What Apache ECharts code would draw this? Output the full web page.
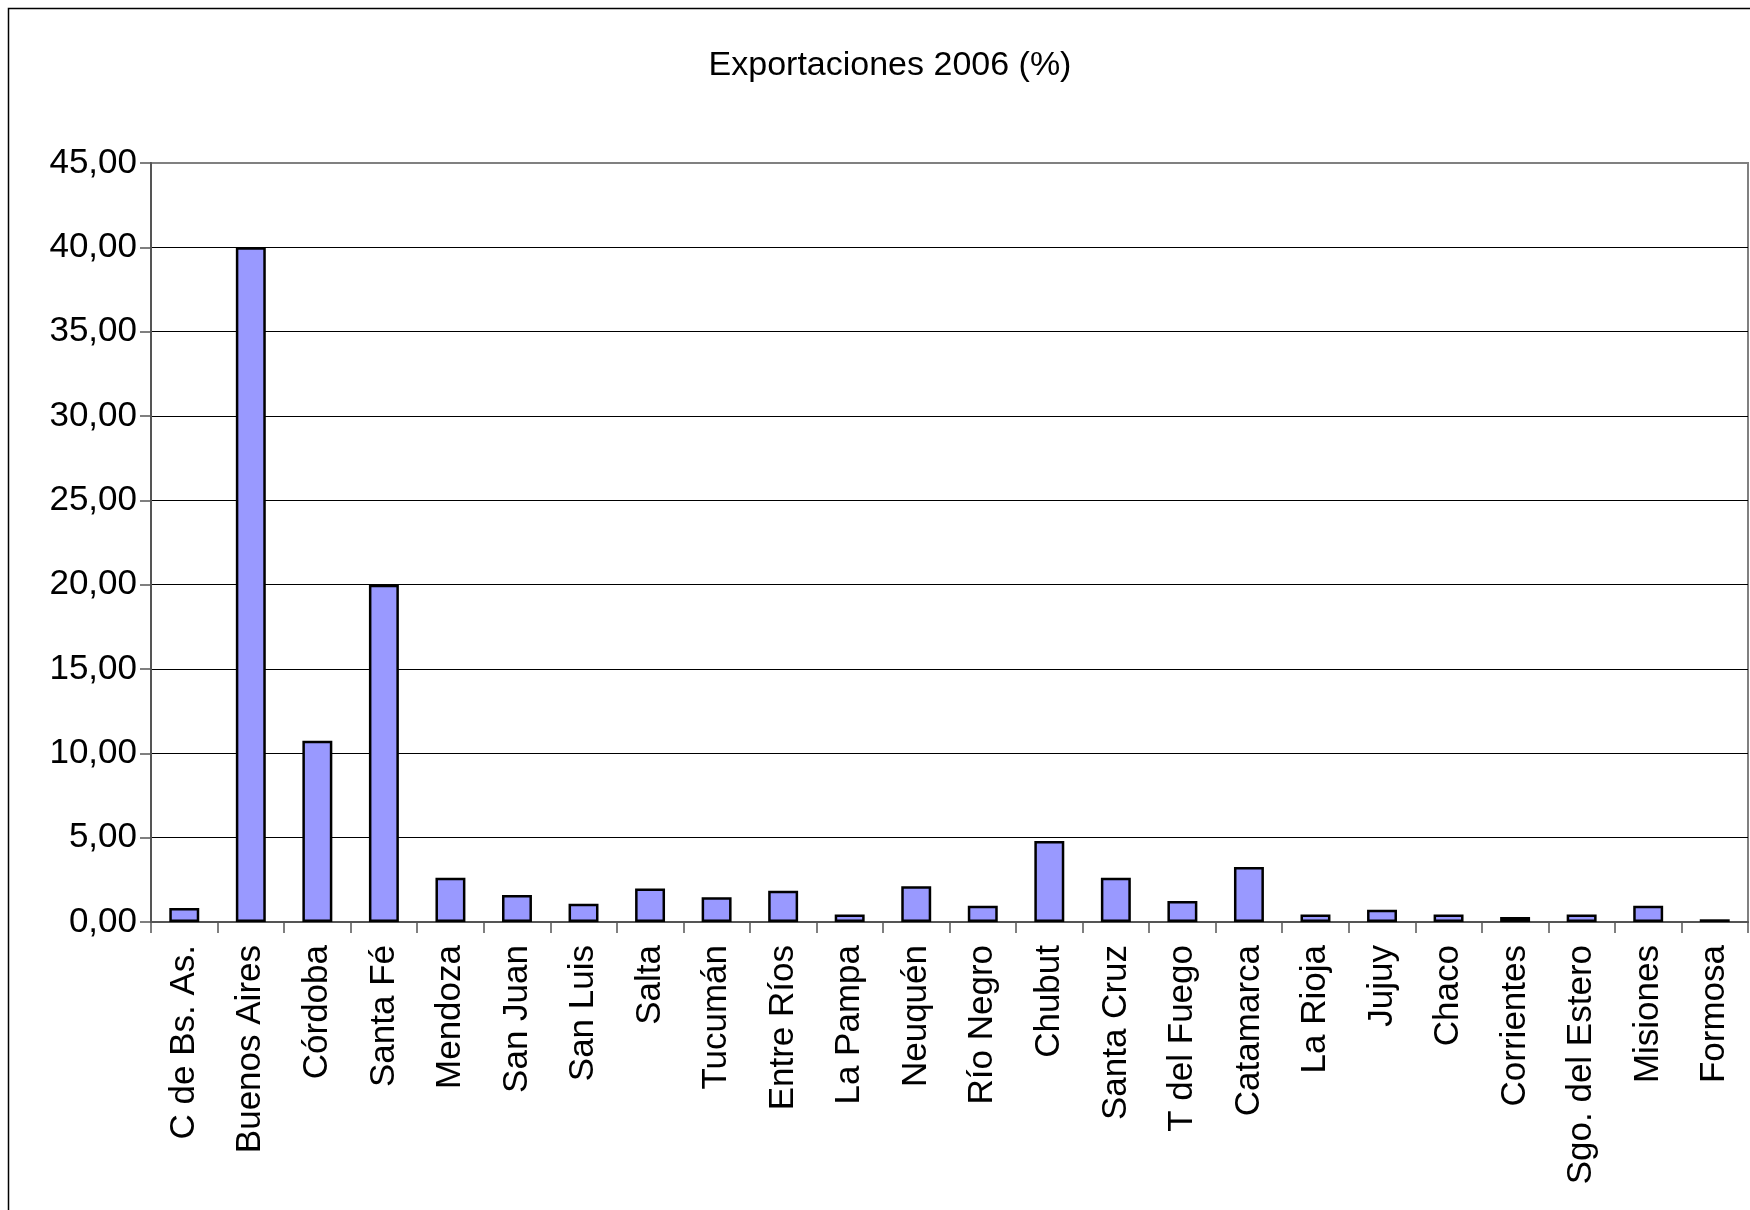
<!DOCTYPE html>
<html>
<head>
<meta charset="utf-8">
<script src="https://cdn.jsdelivr.net/npm/echarts@6/dist/echarts.min.js"></script>
<style>
html,body{margin:0;padding:0;background:#fff;}
#chart{width:1750px;height:1210px;}
</style>
</head>
<body>
<div id="chart"></div>
<script>
const categories = ["C de Bs. As.","Buenos Aires","Córdoba","Santa Fé","Mendoza","San Juan","San Luis","Salta","Tucumán","Entre Ríos","La Pampa","Neuquén","Río Negro","Chubut","Santa Cruz","T del Fuego","Catamarca","La Rioja","Jujuy","Chaco","Corrientes","Sgo. del Estero","Misiones","Formosa"];
const exportaciones2006 = [0.83,40.0,10.75,20.0,2.63,1.6,1.08,1.98,1.47,1.86,0.45,2.12,0.96,4.8,2.63,1.24,3.26,0.45,0.73,0.45,0.3,0.45,0.96,0.16];
const yTicks = [0,5,10,15,20,25,30,35,40,45];
const titleText = "Exportaciones 2006 (%)";

const chart = echarts.init(document.getElementById('chart'));
const FONT = '"Liberation Sans", Arial, sans-serif';
chart.setOption({
  animation: false,
  backgroundColor: '#ffffff',
  title: {
    text: titleText,
    left: 885, top: 44,
    textAlign: 'center',
    textStyle: {fontFamily: FONT, fontSize: 34, fontWeight: 'normal', color: '#000'}
  },
  graphic: [{
    type: 'polyline',
    shape: {points: [[8.5, 1210], [8.5, 8.5], [1750, 8.5]]},
    style: {stroke: '#000', lineWidth: 1.5, fill: null},
    silent: true
  }],
  grid: {
    left: 151, right: 2, top: 163, bottom: 288,
    show: true, borderColor: '#808080', borderWidth: 2, backgroundColor: '#fff'
  },
  xAxis: {
    type: 'category',
    data: categories,
    boundaryGap: true,
    axisLine: {lineStyle: {color: '#555', width: 2}},
    axisTick: {show: true, interval: 0, length: 11, alignWithLabel: false, lineStyle: {color: '#555', width: 1.5}},
    axisLabel: {interval: 0, rotate: 90, margin: 23, fontFamily: FONT, fontSize: 35, color: '#000'}
  },
  yAxis: {
    type: 'value',
    min: yTicks[0], max: yTicks[yTicks.length - 1], interval: yTicks[1] - yTicks[0],
    axisLine: {show: true, lineStyle: {color: '#555', width: 2}},
    axisTick: {show: true, length: 11, lineStyle: {color: '#555', width: 1.5}},
    axisLabel: {margin: 14, fontFamily: FONT, fontSize: 35, color: '#000',
      formatter: v => v.toFixed(2).replace('.', ',')},
    splitLine: {show: true, showMaxLine: false, lineStyle: {color: '#000', width: 1.2}}
  },
  series: [{
    type: 'bar',
    data: exportaciones2006,
    barCategoryGap: '55%',
    itemStyle: {color: '#9999FF', borderColor: '#000', borderWidth: 2.5}
  }]
});
</script>
</body>
</html>
